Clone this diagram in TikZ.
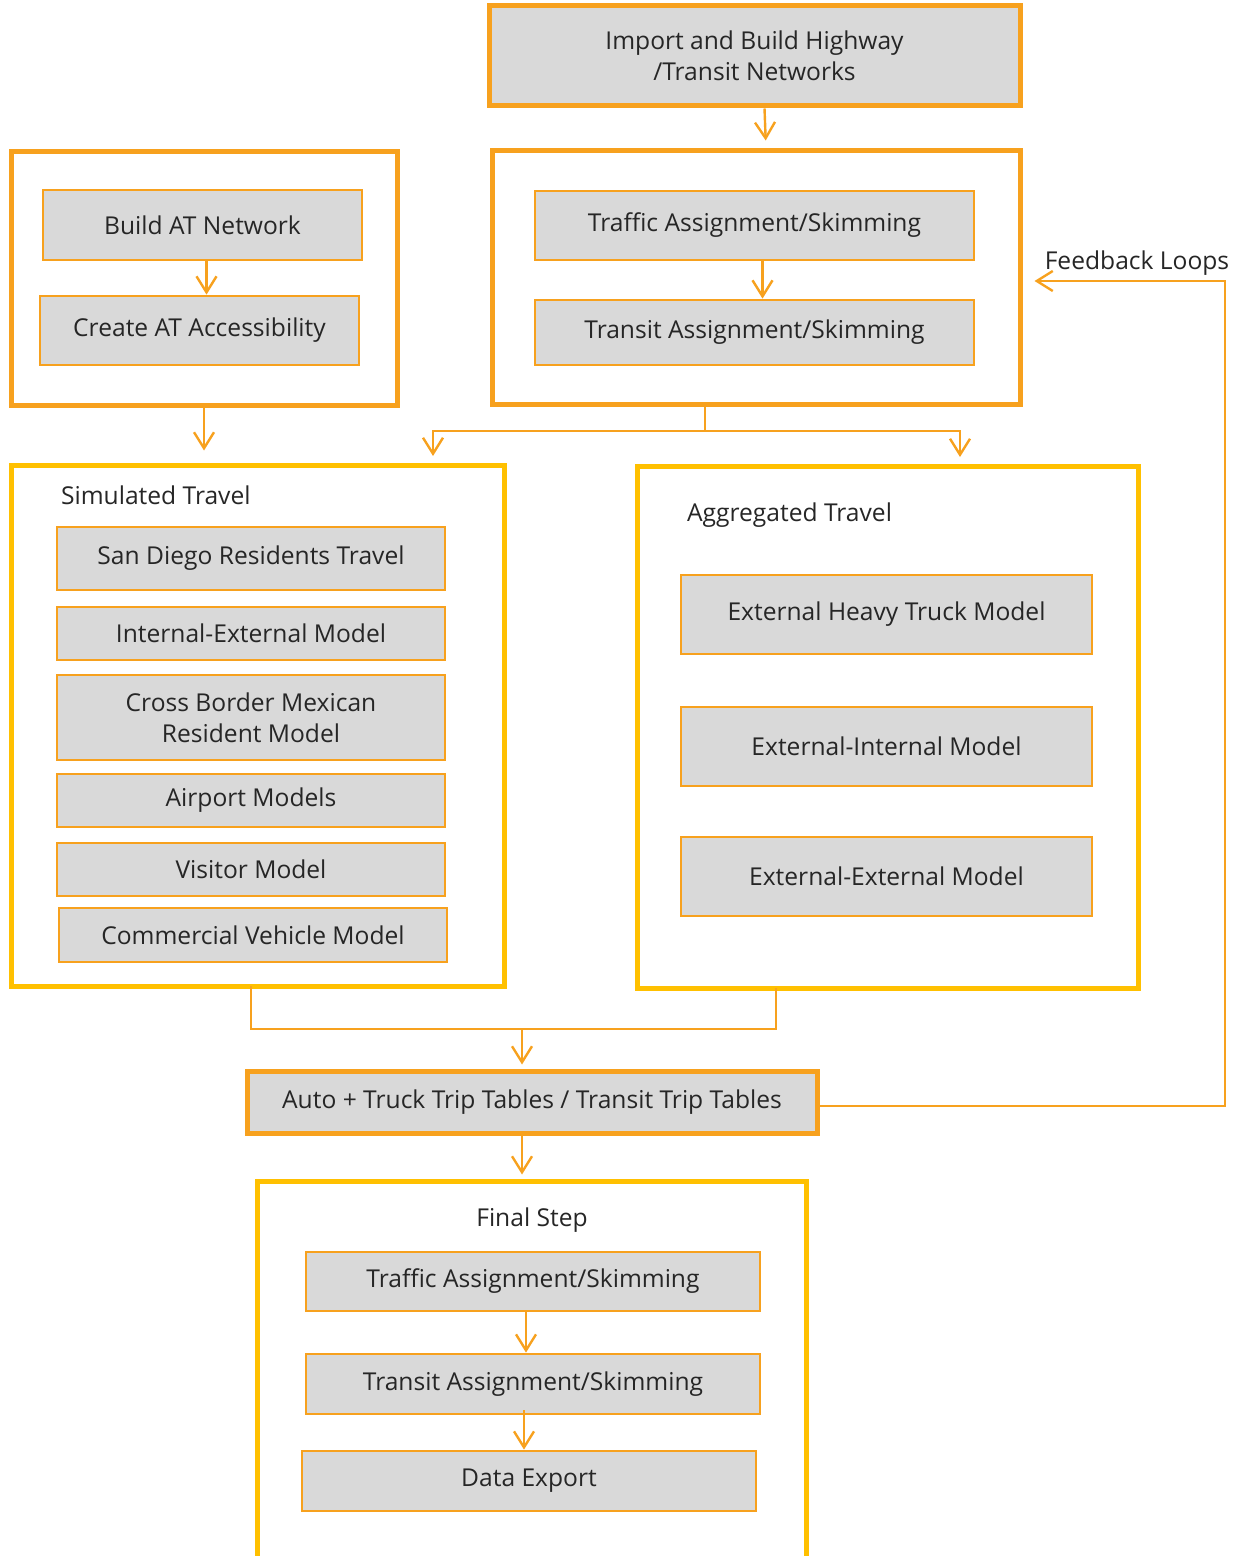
\documentclass[tikz,border=0pt]{standalone}
\usepackage{fontspec}
\setmainfont{Open Sans}
\usepackage{tikz}
\usetikzlibrary{arrows.meta, positioning}

\definecolor{orng}{HTML}{F7A11E}
\definecolor{yel}{HTML}{FFC000}
\definecolor{boxgray}{HTML}{D9D9D9}
\definecolor{txt}{HTML}{262626}

\begin{document}
\begin{tikzpicture}[x=0.5pt, y=-0.5pt]
    \tikzset{
        every node/.style = {text=txt, font=\fontsize{12.3}{15.5}\selectfont},
        task/.style = {rectangle, draw=orng, fill=boxgray, line width=1.4pt, align=center, inner sep=0pt},
        mainbox/.style = {rectangle, draw=orng, line width=2.5pt, inner sep=0pt},
        stage/.style = {rectangle, draw=yel, line width=2.5pt, inner sep=0pt},
        line/.style = {draw=orng, line width=1.2pt, -{Straight Barb[length=8pt, width=10pt]}},
        link/.style = {draw=orng, line width=1.2pt}
    }
    \useasboundingbox (0,0) rectangle (1240,1556);

    % top of the chain
    \node[mainbox, fill=boxgray, minimum width=265.5pt, minimum height=50pt, align=center] (import) at (754.5,56) {Import and Build Highway\\/Transit Networks};

    \node[mainbox, fill=white, minimum width=264pt, minimum height=126.5pt] (assign) at (756,277.5) {};
    \node[task, minimum width=219.5pt, minimum height=34.5pt] (traffic) at (754.5,225.5) {\raisebox{3pt}{Traffic Assignment/Skimming}};
    \node[task, minimum width=219.5pt, minimum height=32.5pt] (transit) at (754.5,332.5) {\raisebox{2pt}{Transit Assignment/Skimming}};

    \node[mainbox, fill=white, minimum width=193pt, minimum height=126.5pt] (atbox) at (204,278.5) {};
    \node[task, minimum width=159.5pt, minimum height=35pt] (atnet) at (202.5,225) {Build AT Network};
    \node[task, minimum width=159.5pt, minimum height=34.5pt] (atacc) at (199.5,330.5) {\raisebox{3pt}{Create AT Accessibility}};

    % simulated travel
    \node[stage, minimum width=246.5pt, minimum height=260.5pt] (simulated) at (257.5,725.5) {};
    \node[anchor=west] (simlabel) at (54,495) {Simulated Travel};
    \node[task, minimum width=194pt, minimum height=31.5pt] (residents) at (251,558.5) {San Diego Residents Travel};
    \node[task, minimum width=194pt, minimum height=26.5pt] (intext) at (251,633.5) {Internal-External Model};
    \node[task, minimum width=194pt, minimum height=42.5pt] (crossborder) at (251,717.5) {Cross Border Mexican\\Resident Model};
    \node[task, minimum width=194pt, minimum height=26.5pt] (airport) at (251,800.5) {Airport Models};
    \node[task, minimum width=194pt, minimum height=26.5pt] (visitor) at (251,869.5) {Visitor Model};
    \node[task, minimum width=194pt, minimum height=27pt] (commercial) at (253,935) {Commercial Vehicle Model};

    % aggregated travel
    \node[stage, minimum width=250.5pt, minimum height=261pt] (aggregated) at (887.5,727) {};
    \node[anchor=west] (agglabel) at (680,515) {Aggregated Travel};
    \node[task, minimum width=205.5pt, minimum height=39.5pt] (heavytruck) at (886.5,614.5) {External Heavy Truck Model};
    \node[task, minimum width=205.5pt, minimum height=39.5pt] (extint) at (886.5,746.5) {External-Internal Model};
    \node[task, minimum width=205.5pt, minimum height=39.5pt] (extext) at (886.5,876.5) {External-External Model};

    % trip tables and final step
    \node[mainbox, fill=boxgray, minimum width=285pt, minimum height=31pt] (trips) at (532,1102) {Auto + Truck Trip Tables / Transit Trip Tables};
    \node[stage, minimum width=274.5pt, minimum height=210pt] (final) at (531.5,1391) {};
    \node (finlabel) at (532,1220) {Final Step};
    \node[task, minimum width=227pt, minimum height=29.5pt] (ftraffic) at (533,1281.5) {Traffic Assignment/Skimming};
    \node[task, minimum width=227pt, minimum height=30pt] (ftransit) at (533,1384) {Transit Assignment/Skimming};
    \node[task, minimum width=227pt, minimum height=30pt] (export) at (529,1481) {Data Export};

    \node (fblabel) at (1137,263) {Feedback Loops};

    \coordinate (split) at (705,431);
    \coordinate (simin) at (433,456);
    \coordinate (aggin) at (960,457);
    \coordinate (simout) at (251,986);
    \coordinate (aggout) at (776,988);
    \coordinate (join) at (522,1029);
    \coordinate (fbtop) at (1225,281);

    \path[line, shorten >=4pt] ([xshift=5pt]import.south) -- ([xshift=5pt]assign.north);
    \path[line] ([xshift=2pt]atnet.south) -- ([xshift=3.5pt]atacc.north);
    \path[line] ([xshift=4pt]traffic.south) -- ([xshift=4pt]transit.north);
    \path[line, shorten >=6pt] (atbox.south) -- (atbox.south |- simulated.north);
    \path[link] (split) -- (split |- assign.south);
    \path[line] (split) -| (simin);
    \path[line] (split) -| (aggin);
    \path[link] (simout) |- (join) -| (aggout);
    \path[line, shorten >=2pt] (join) -- (join |- trips.north);
    \path[line, shorten >=2pt] (trips.south -| join) -- (join |- final.north);
    \path[line] ([xshift=-3.5pt]ftraffic.south) -- ([xshift=-3.5pt]ftransit.north);
    \path[line] ([xshift=-4.5pt, yshift=2.5pt]ftransit.south) -- ([xshift=-2.5pt]export.north);
    \path[line, shorten >=6pt] ([yshift=-2pt]trips.east) -| (fbtop) -- (fbtop -| assign.east);
\end{tikzpicture}
\end{document}
